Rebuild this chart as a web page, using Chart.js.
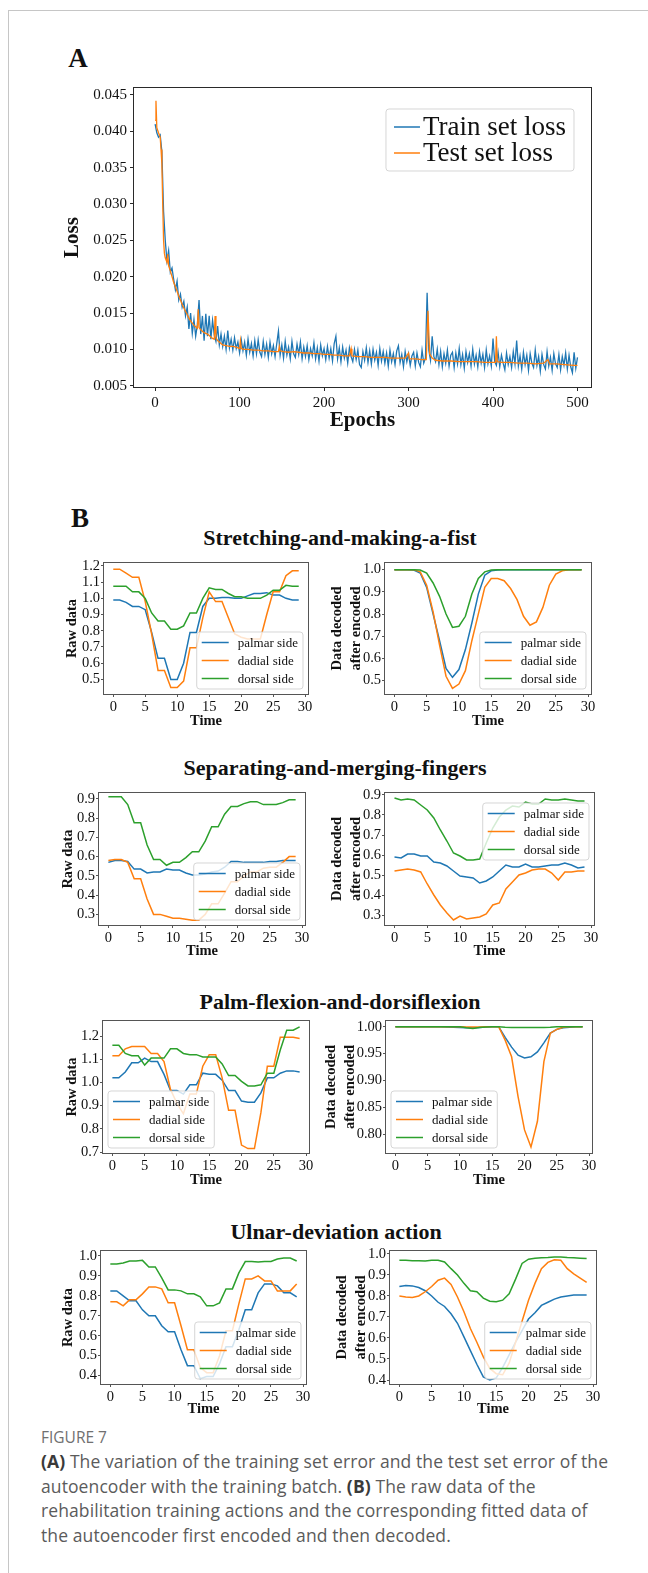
<!DOCTYPE html>
<html>
<head>
<meta charset="utf-8">
<script src="https://cdn.jsdelivr.net/npm/chart.js@4.4.1/dist/chart.umd.min.js"></script>
<style>
  html, body { margin: 0; padding: 0; background: #fff; }
  #page { position: relative; width: 648px; height: 1573px; overflow: hidden; font-family: 'Liberation Serif', 'Times New Roman', serif; color: #111; }
  .frame { position: absolute; left: 8px; top: 10px; width: 660px; height: 1600px; border-top: 1.5px solid #c6c6c6; border-left: 1.5px solid #c6c6c6; }
  .tag, .title { position: absolute; font-weight: bold; line-height: 1; white-space: nowrap; transform: translate(-50%, -50%); }
  .tag { font-size: 27px; }
  .title { font-size: 22px; }
  canvas { position: absolute; }
  .caption { position: absolute; left: 41px; top: 1424px; width: 607px; font-family: 'Open Sans', sans-serif; font-size: 17.5px; letter-spacing: 0.1px; line-height: 24.4px; color: #5b5b5b; white-space: nowrap; }
  .caption .fig { font-size: 15.5px; letter-spacing: 0; color: #707070; }
  .caption b { color: #3a3a3a; }
</style>
</head>
<body>
<div id="page">
  <div class="frame"></div>
  <div class="tag" style="left:78px; top:58px">A</div>
  <div class="tag" style="left:80px; top:518px">B</div>
  <div class="title" style="left:340px; top:538px">Stretching-and-making-a-fist</div>
  <div class="title" style="left:335px; top:768px">Separating-and-merging-fingers</div>
  <div class="title" style="left:340px; top:1002px">Palm-flexion-and-dorsiflexion</div>
  <div class="title" style="left:336px; top:1232px">Ulnar-deviation action</div>
  <canvas id="lossChart"></canvas>
  <canvas id="c0"></canvas><canvas id="c1"></canvas>
  <canvas id="c2"></canvas><canvas id="c3"></canvas>
  <canvas id="c4"></canvas><canvas id="c5"></canvas>
  <canvas id="c6"></canvas><canvas id="c7"></canvas>
  <div class="caption">
    <span class="fig">FIGURE 7</span><br>
    <b>(A)</b> The variation of the training set error and the test set error of the<br>
    autoencoder with the training batch. <b>(B)</b> The raw data of the<br>
    rehabilitation training actions and the corresponding fitted data of<br>
    the autoencoder first encoded and then decoded.
  </div>
</div>
<script>
// ---- panel A: autoencoder loss per epoch ----
const lossLabels = ['Train set loss', 'Test set loss'];
const epochTicks = [0, 100, 200, 300, 400, 500];
const lossTicks = [0.005, 0.010, 0.015, 0.020, 0.025, 0.030, 0.035, 0.040, 0.045];

// train loss sampled every 2 epochs (0..500)
const trainEpochs = Array.from({ length: 251 }, (_, i) => i * 2);
const trainLoss = [
  0.0410, 0.0398, 0.0392, 0.0395, 0.0372, 0.0290, 0.0250, 0.0222, 0.0236, 0.0206,
  0.0212, 0.0196, 0.0182, 0.0194, 0.0168, 0.0176, 0.0158, 0.0166, 0.0146, 0.0158,
  0.0128, 0.0150, 0.0122, 0.0141, 0.0118, 0.0134, 0.0168, 0.0121, 0.0146, 0.0112,
  0.0149, 0.0118, 0.0146, 0.0114, 0.0140, 0.0120, 0.0111, 0.0132, 0.0106, 0.0121,
  0.0104, 0.0118, 0.0100, 0.0126, 0.0102, 0.0114, 0.0099, 0.0116, 0.0101, 0.0110,
  0.0095, 0.0113, 0.0098, 0.0110, 0.0092, 0.0114, 0.0096, 0.0108, 0.0091, 0.0112,
  0.0094, 0.0113, 0.0096, 0.0090, 0.0111, 0.0093, 0.0107, 0.0089, 0.0110, 0.0094,
  0.0105, 0.0090, 0.0108, 0.0125, 0.0092, 0.0106, 0.0088, 0.0111, 0.0092, 0.0103,
  0.0087, 0.0111, 0.0094, 0.0089, 0.0107, 0.0093, 0.0110, 0.0087, 0.0103, 0.0090,
  0.0105, 0.0086, 0.0101, 0.0091, 0.0109, 0.0087, 0.0102, 0.0084, 0.0106, 0.0091,
  0.0101, 0.0086, 0.0104, 0.0088, 0.0101, 0.0084, 0.0108, 0.0118, 0.0087, 0.0102,
  0.0083, 0.0103, 0.0088, 0.0099, 0.0081, 0.0102, 0.0090, 0.0083, 0.0100, 0.0086,
  0.0099, 0.0079, 0.0075, 0.0097, 0.0085, 0.0102, 0.0082, 0.0098, 0.0080, 0.0100,
  0.0085, 0.0096, 0.0078, 0.0101, 0.0084, 0.0097, 0.0081, 0.0095, 0.0077, 0.0099,
  0.0083, 0.0094, 0.0079, 0.0098, 0.0105, 0.0082, 0.0093, 0.0076, 0.0097, 0.0083,
  0.0094, 0.0078, 0.0091, 0.0096, 0.0077, 0.0095, 0.0082, 0.0076, 0.0099, 0.0081,
  0.0088, 0.0178, 0.0099, 0.0085, 0.0118, 0.0090, 0.0083, 0.0100, 0.0079, 0.0097,
  0.0076, 0.0094, 0.0081, 0.0099, 0.0077, 0.0092, 0.0096, 0.0075, 0.0095, 0.0080,
  0.0101, 0.0079, 0.0093, 0.0074, 0.0097, 0.0082, 0.0094, 0.0077, 0.0100, 0.0080,
  0.0092, 0.0076, 0.0097, 0.0081, 0.0093, 0.0075, 0.0099, 0.0080, 0.0091, 0.0077,
  0.0115, 0.0083, 0.0078, 0.0096, 0.0076, 0.0092, 0.0081, 0.0072, 0.0095, 0.0079,
  0.0090, 0.0075, 0.0097, 0.0080, 0.0112, 0.0077, 0.0091, 0.0073, 0.0096, 0.0079,
  0.0092, 0.0071, 0.0094, 0.0081, 0.0075, 0.0099, 0.0078, 0.0090, 0.0070, 0.0093,
  0.0079, 0.0073, 0.0097, 0.0077, 0.0089, 0.0071, 0.0094, 0.0080, 0.0075, 0.0093,
  0.0072, 0.0090, 0.0078, 0.0095, 0.0073, 0.0092, 0.0076, 0.0068, 0.0096, 0.0074,
  0.0089
];

// test loss: smooth curve with a few isolated spikes
const testEpochs = [
  0, 1, 2, 4, 6, 7, 8, 9, 10, 11, 12, 14, 15, 16, 18, 20, 22, 24, 26, 28,
  30, 32, 34, 36, 38, 40, 42, 44, 46, 48, 50, 51, 52, 54, 56, 58, 60, 62, 64, 66,
  68, 70, 71, 72, 74, 76, 78, 80, 84, 88, 92, 96, 100, 101, 102, 106, 110, 116, 122, 128,
  134, 140, 146, 147, 148, 152, 158, 164, 170, 176, 182, 188, 194, 200, 206, 212, 218, 224, 230, 232,
  233, 240, 248, 256, 264, 272, 280, 288, 296, 300, 301, 308, 316, 321, 323, 325, 328, 332, 340, 350,
  360, 370, 380, 390, 400, 403, 404, 405, 410, 420, 430, 440, 450, 460, 465, 467, 475, 485, 495, 500
];
const testLoss = [
  0.0415, 0.0442, 0.0405, 0.0398, 0.0392, 0.0375, 0.0355, 0.0300, 0.0250, 0.0232, 0.0226, 0.0220, 0.0231, 0.0215, 0.0208, 0.0200, 0.0192, 0.0186, 0.0180, 0.0173,
  0.0168, 0.0162, 0.0157, 0.0152, 0.0148, 0.0143, 0.0139, 0.0136, 0.0133, 0.0131, 0.0129, 0.0155, 0.0130, 0.0127, 0.0125, 0.0123, 0.0122, 0.0121, 0.0119, 0.0117,
  0.0115, 0.0114, 0.0146, 0.0116, 0.0112, 0.0110, 0.0108, 0.0106, 0.0105, 0.0104, 0.0104, 0.0103, 0.0101, 0.0112, 0.0101, 0.0100, 0.0100, 0.0099, 0.0099, 0.0098,
  0.0098, 0.0097, 0.0097, 0.0104, 0.0098, 0.0097, 0.0096, 0.0097, 0.0096, 0.0095, 0.0095, 0.0094, 0.0094, 0.0093, 0.0093, 0.0092, 0.0092, 0.0091, 0.0091, 0.0101,
  0.0091, 0.0090, 0.0090, 0.0089, 0.0089, 0.0089, 0.0088, 0.0088, 0.0088, 0.0095, 0.0087, 0.0087, 0.0086, 0.0086, 0.0153, 0.0094, 0.0088, 0.0085, 0.0084, 0.0084,
  0.0083, 0.0083, 0.0083, 0.0082, 0.0082, 0.0082, 0.0118, 0.0083, 0.0082, 0.0082, 0.0081, 0.0081, 0.0080, 0.0081, 0.0086, 0.0080, 0.0080, 0.0079, 0.0078, 0.0078
];

// ---- panel B: sensor sides over 30 time steps ----
const sideLabels = ['palmar side', 'dadial side', 'dorsal side'];
const timeSteps = [0, 1, 2, 3, 4, 5, 6, 7, 8, 9, 10, 11, 12, 13, 14, 15, 16, 17, 18, 19, 20, 21, 22, 23, 24, 25, 26, 27, 28, 29];
const timeTicks = [0, 5, 10, 15, 20, 25, 30];

const stretchRawPalmar = [0.99, 0.99, 0.975, 0.95, 0.95, 0.93, 0.79, 0.63, 0.63, 0.50, 0.50, 0.60, 0.79, 0.79, 0.95, 1.00, 1.00, 1.005, 1.005, 1.00, 1.00, 1.015, 1.03, 1.03, 1.035, 1.02, 1.02, 1.00, 0.99, 0.99];
const stretchRawDadial = [1.18, 1.18, 1.155, 1.13, 1.13, 0.98, 0.78, 0.555, 0.555, 0.45, 0.45, 0.49, 0.695, 0.695, 0.88, 1.04, 0.98, 0.98, 0.88, 0.78, 0.76, 0.75, 0.75, 0.75, 0.90, 1.04, 1.04, 1.14, 1.17, 1.17];
const stretchRawDorsal = [1.075, 1.075, 1.075, 1.04, 1.04, 1.00, 0.91, 0.86, 0.86, 0.81, 0.81, 0.83, 0.91, 0.91, 1.00, 1.065, 1.055, 1.055, 1.03, 1.01, 1.01, 1.00, 1.00, 1.00, 1.02, 1.05, 1.05, 1.08, 1.075, 1.075];
const stretchDecPalmar = [1.0, 1.0, 1.0, 0.998, 0.985, 0.92, 0.80, 0.68, 0.555, 0.515, 0.55, 0.64, 0.76, 0.89, 0.975, 0.995, 0.998, 1.0, 1.0, 1.0, 1.0, 1.0, 1.0, 1.0, 1.0, 1.0, 1.0, 1.0, 1.0, 1.0];
const stretchDecDadial = [1.0, 1.0, 1.0, 1.0, 0.99, 0.93, 0.81, 0.66, 0.52, 0.465, 0.485, 0.545, 0.68, 0.80, 0.92, 0.96, 0.96, 0.95, 0.915, 0.865, 0.79, 0.75, 0.765, 0.83, 0.93, 0.98, 0.995, 1.0, 1.0, 1.0];
const stretchDecDorsal = [1.0, 1.0, 1.0, 1.0, 0.998, 0.985, 0.94, 0.88, 0.80, 0.74, 0.745, 0.79, 0.89, 0.96, 0.99, 0.998, 1.0, 1.0, 1.0, 1.0, 1.0, 1.0, 1.0, 1.0, 1.0, 1.0, 1.0, 1.0, 1.0, 1.0];

const sepRawPalmar = [0.57, 0.58, 0.58, 0.575, 0.535, 0.535, 0.515, 0.52, 0.52, 0.535, 0.53, 0.53, 0.515, 0.505, 0.505, 0.51, 0.52, 0.525, 0.545, 0.575, 0.575, 0.57, 0.57, 0.57, 0.57, 0.575, 0.575, 0.58, 0.58, 0.58];
const sepRawDadial = [0.58, 0.585, 0.585, 0.57, 0.485, 0.485, 0.38, 0.30, 0.30, 0.29, 0.28, 0.28, 0.275, 0.27, 0.27, 0.30, 0.355, 0.355, 0.41, 0.47, 0.47, 0.50, 0.52, 0.52, 0.54, 0.545, 0.545, 0.57, 0.60, 0.60];
const sepRawDorsal = [0.91, 0.91, 0.91, 0.87, 0.775, 0.775, 0.66, 0.585, 0.585, 0.555, 0.57, 0.57, 0.595, 0.625, 0.625, 0.68, 0.755, 0.755, 0.82, 0.86, 0.86, 0.875, 0.885, 0.885, 0.87, 0.87, 0.87, 0.88, 0.895, 0.895];
const sepDecPalmar = [0.59, 0.585, 0.605, 0.605, 0.595, 0.595, 0.565, 0.56, 0.545, 0.52, 0.495, 0.49, 0.485, 0.46, 0.47, 0.49, 0.52, 0.55, 0.54, 0.54, 0.555, 0.54, 0.54, 0.545, 0.55, 0.55, 0.56, 0.55, 0.535, 0.54];
const sepDecDadial = [0.52, 0.525, 0.53, 0.525, 0.515, 0.455, 0.40, 0.35, 0.31, 0.275, 0.295, 0.28, 0.285, 0.29, 0.305, 0.35, 0.36, 0.43, 0.465, 0.50, 0.51, 0.525, 0.53, 0.53, 0.51, 0.475, 0.515, 0.515, 0.52, 0.52];
const sepDecDorsal = [0.885, 0.875, 0.88, 0.875, 0.85, 0.825, 0.785, 0.725, 0.67, 0.61, 0.595, 0.575, 0.575, 0.58, 0.66, 0.735, 0.79, 0.825, 0.845, 0.84, 0.865, 0.855, 0.855, 0.88, 0.875, 0.875, 0.88, 0.875, 0.87, 0.87];

const palmRawPalmar = [1.02, 1.02, 1.045, 1.085, 1.085, 1.105, 1.09, 1.09, 1.035, 0.965, 0.965, 0.95, 0.99, 0.99, 1.04, 1.035, 1.035, 1.01, 0.965, 0.965, 0.92, 0.915, 0.915, 0.955, 1.02, 1.02, 1.04, 1.05, 1.05, 1.045];
const palmRawDadial = [1.115, 1.115, 1.145, 1.155, 1.155, 1.155, 1.125, 1.125, 1.09, 0.97, 0.91, 0.865, 0.95, 0.95, 1.07, 1.12, 1.12, 1.02, 0.88, 0.88, 0.73, 0.715, 0.715, 0.87, 1.07, 1.07, 1.195, 1.195, 1.195, 1.19];
const palmRawDorsal = [1.16, 1.16, 1.125, 1.115, 1.115, 1.075, 1.105, 1.105, 1.105, 1.145, 1.145, 1.125, 1.12, 1.12, 1.11, 1.11, 1.11, 1.08, 1.03, 1.03, 1.005, 0.985, 0.985, 0.99, 1.04, 1.04, 1.14, 1.225, 1.225, 1.24];
const palmDecPalmar = [1.0, 1.0, 1.0, 1.0, 1.0, 1.0, 1.0, 1.0, 0.9995, 0.999, 0.9985, 0.998, 0.998, 0.9985, 0.9995, 1.0, 1.0, 0.98, 0.962, 0.947, 0.942, 0.944, 0.953, 0.97, 0.988, 0.995, 0.998, 0.999, 1.0, 1.0];
const palmDecDadial = [1.0, 1.0, 1.0, 1.0, 1.0, 1.0, 1.0, 1.0, 1.0, 1.0, 1.0, 0.9995, 0.9995, 0.9995, 1.0, 1.0, 1.0, 0.975, 0.944, 0.87, 0.808, 0.776, 0.824, 0.935, 0.988, 0.995, 0.999, 1.0, 1.0, 1.0];
const palmDecDorsal = [1.0, 1.0, 1.0, 1.0, 1.0, 1.0, 1.0, 1.0, 1.0, 1.0, 1.0, 0.998, 0.9965, 0.9985, 0.9995, 1.0, 1.0, 0.999, 0.9985, 0.9985, 0.9985, 0.9985, 0.9985, 0.9985, 0.999, 1.0, 1.0, 1.0, 1.0, 1.0];

const ulnarRawPalmar = [0.825, 0.825, 0.80, 0.775, 0.775, 0.73, 0.70, 0.70, 0.65, 0.62, 0.62, 0.53, 0.45, 0.45, 0.385, 0.395, 0.395, 0.46, 0.545, 0.545, 0.63, 0.73, 0.73, 0.815, 0.86, 0.86, 0.85, 0.815, 0.815, 0.795];
const ulnarRawDadial = [0.77, 0.77, 0.75, 0.78, 0.78, 0.81, 0.845, 0.845, 0.835, 0.765, 0.765, 0.65, 0.53, 0.53, 0.44, 0.415, 0.415, 0.50, 0.625, 0.625, 0.76, 0.885, 0.885, 0.90, 0.875, 0.875, 0.825, 0.825, 0.825, 0.86];
const ulnarRawDorsal = [0.96, 0.96, 0.965, 0.975, 0.975, 0.978, 0.945, 0.945, 0.89, 0.83, 0.83, 0.825, 0.81, 0.81, 0.795, 0.75, 0.75, 0.765, 0.835, 0.835, 0.915, 0.972, 0.972, 0.97, 0.972, 0.972, 0.985, 0.99, 0.99, 0.975];
const ulnarDecPalmar = [0.845, 0.85, 0.848, 0.84, 0.825, 0.80, 0.77, 0.75, 0.715, 0.67, 0.605, 0.54, 0.475, 0.415, 0.40, 0.41, 0.46, 0.52, 0.58, 0.635, 0.69, 0.72, 0.755, 0.77, 0.785, 0.795, 0.80, 0.805, 0.805, 0.805];
const ulnarDecDadial = [0.80, 0.795, 0.793, 0.80, 0.82, 0.845, 0.875, 0.885, 0.855, 0.795, 0.725, 0.645, 0.58, 0.51, 0.455, 0.43, 0.425, 0.48, 0.58, 0.68, 0.78, 0.86, 0.93, 0.96, 0.972, 0.97, 0.93, 0.905, 0.885, 0.865];
const ulnarDecDorsal = [0.97, 0.97, 0.968, 0.968, 0.967, 0.97, 0.97, 0.962, 0.93, 0.90, 0.86, 0.825, 0.82, 0.79, 0.775, 0.772, 0.78, 0.81, 0.88, 0.955, 0.975, 0.98, 0.982, 0.983, 0.985, 0.985, 0.983, 0.982, 0.98, 0.978];

const stretchRawTicks = [0.5, 0.6, 0.7, 0.8, 0.9, 1.0, 1.1, 1.2];
const stretchDecTicks = [0.5, 0.6, 0.7, 0.8, 0.9, 1.0];
const sepTicks = [0.3, 0.4, 0.5, 0.6, 0.7, 0.8, 0.9];
const palmRawTicks = [0.7, 0.8, 0.9, 1.0, 1.1, 1.2];
const palmDecTicks = [0.80, 0.85, 0.90, 0.95, 1.00];
const ulnarTicks = [0.4, 0.5, 0.6, 0.7, 0.8, 0.9, 1.0];

const sideColors = ['#1f77b4', '#ff7f0e', '#2ca02c'];
const SERIF = "'Liberation Serif', 'Times New Roman', serif";
Chart.defaults.font.family = SERIF;
Chart.defaults.color = '#111';

// box around the plot area plus a matplotlib-style legend inside it
const axesBox = {
  id: 'axesBox',
  afterDraw(chart, args, opts) {
    const { ctx, chartArea: a } = chart;
    ctx.save();
    ctx.strokeStyle = opts.frameColor;
    ctx.lineWidth = 1;
    ctx.strokeRect(Math.round(a.left) - 0.5, Math.round(a.top) - 0.5, Math.round(a.right - a.left) + 1, Math.round(a.bottom - a.top) + 1);

    const L = opts.legend;
    const sets = chart.data.datasets;
    ctx.font = `${L.size}px ${SERIF}`;
    const textW = Math.max(...sets.map(d => ctx.measureText(d.label).width));
    const w = L.inset + L.handle + L.gap + textW + L.inset;
    const h = L.rowH * sets.length + L.vpad * 2;
    const x = L.loc.includes('right') ? a.right - L.padX - w : a.left + L.padX;
    const y = L.loc.includes('upper') ? a.top + L.padY : a.bottom - L.padY - h;
    ctx.beginPath();
    ctx.roundRect(x, y, w, h, 3);
    ctx.fillStyle = 'rgba(255,255,255,0.8)';
    ctx.fill();
    ctx.strokeStyle = 'rgba(204,204,204,0.8)';
    ctx.stroke();
    ctx.textBaseline = 'middle';
    ctx.textAlign = 'left';
    sets.forEach((d, i) => {
      const cy = y + L.vpad + L.rowH * (i + 0.5);
      ctx.strokeStyle = d.borderColor;
      ctx.lineWidth = L.lineWidth;
      ctx.beginPath();
      ctx.moveTo(x + L.inset, cy);
      ctx.lineTo(x + L.inset + L.handle, cy);
      ctx.stroke();
      ctx.fillStyle = '#111';
      ctx.fillText(d.label, x + L.inset + L.handle + L.gap, cy + L.textDy);
    });
    ctx.restore();
  }
};

// sizes a canvas so that the plot area lands on the given [left, top, right, bottom]
function buildChart(id, spec) {
  const canvas = document.getElementById(id);
  const [l, t, r, b] = spec.axes;
  const left = Math.round(spec.labelX - spec.yLine / 2);
  const top = t - spec.padT;
  const bottom = Math.round(spec.xTitleY + spec.xLine / 2);
  canvas.style.left = left + 'px';
  canvas.style.top = top + 'px';
  canvas.width = r + spec.padR - left;
  canvas.height = bottom - top;
  const yW = l - left, xH = bottom - b;
  const axisCommon = (ticksArr, fmt, fitter) => ({
    type: 'linear',
    afterBuildTicks: s => { s.ticks = ticksArr.map(v => ({ value: v })); },
    afterFit: fitter,
    grid: { drawOnChartArea: false, drawTicks: true, tickLength: spec.tickLen, tickColor: spec.frameColor },
    border: { display: false },
    ticks: { autoSkip: false, maxRotation: 0, padding: spec.tickPad, font: { size: spec.tickSize }, color: '#111', callback: fmt }
  });
  const x = axisCommon(spec.xTicks, v => String(v), s => { s.height = xH; });
  x.min = spec.xRange[0]; x.max = spec.xRange[1];
  x.title = { display: true, text: spec.xTitle, padding: 0, font: { size: spec.titleSize, weight: 'bold', lineHeight: 1.2 }, color: '#111' };
  const y = axisCommon(spec.yTicks, v => v.toFixed(spec.digits), s => { s.width = yW; });
  y.min = spec.yRange[0]; y.max = spec.yRange[1];
  y.title = { display: true, text: spec.yTitle, padding: 0, font: { size: spec.titleSize, weight: 'bold', lineHeight: spec.yLine / spec.titleSize }, color: '#111' };

  return new Chart(canvas, {
    type: 'line',
    data: { datasets: spec.datasets },
    options: {
      responsive: false,
      animation: false,
      events: [],
      layout: { padding: { top: spec.padT, right: spec.padR, left: 0, bottom: 0 } },
      elements: { point: { radius: 0 }, line: { tension: 0, borderWidth: spec.lineWidth } },
      plugins: {
        legend: { display: false },
        tooltip: { enabled: false },
        axesBox: { frameColor: spec.frameColor, legend: spec.legend }
      },
      scales: { x, y }
    },
    plugins: [axesBox]
  });
}

const pairs = (xs, ys) => xs.map((v, i) => ({ x: v, y: ys[i] }));

// panel A
buildChart('lossChart', {
  axes: [134, 86, 591, 387], labelX: 73, xTitleY: 420, padT: 10, padR: 14,
  yLine: 25.2, xLine: 25.2, titleSize: 21, tickSize: 15, tickLen: 4, tickPad: 3,
  frameColor: '#2a2a2a', lineWidth: 1.3, digits: 3,
  xRange: [-25, 516], yRange: [0.00482, 0.04596],
  xTicks: epochTicks, yTicks: lossTicks, xTitle: 'Epochs', yTitle: 'Loss',
  datasets: [
    { label: lossLabels[0], data: pairs(trainEpochs, trainLoss), borderColor: sideColors[0], order: 1 },
    { label: lossLabels[1], data: pairs(testEpochs, testLoss), borderColor: sideColors[1], order: 0 }
  ],
  legend: { loc: 'upper right', padX: 17, padY: 21, size: 27, rowH: 26, vpad: 5, inset: 8, handle: 26, gap: 3, lineWidth: 1.5, textDy: 1 }
});

// panel B: raw (left) and decoded (right) for each action
const rawTitle = 'Raw data';
const decTitle = ['Data decoded', 'after encoded'];
const smallPanels = [
  { axes: [104, 563, 308, 694], labelX: 72.5, xTitleY: 721, yTitle: rawTitle, yRange: [0.41, 1.218], yTicks: stretchRawTicks, digits: 1, series: [stretchRawPalmar, stretchRawDadial, stretchRawDorsal], loc: 'lower right' },
  { axes: [385, 563, 591, 694], labelX: 337, xTitleY: 721, yTitle: decTitle, yRange: [0.44, 1.03], yTicks: stretchDecTicks, digits: 1, series: [stretchDecPalmar, stretchDecDadial, stretchDecDorsal], loc: 'lower right' },
  { axes: [99, 793, 305, 925], labelX: 69, xTitleY: 951, yTitle: rawTitle, yRange: [0.245, 0.93], yTicks: sepTicks, digits: 1, series: [sepRawPalmar, sepRawDadial, sepRawDorsal], loc: 'lower right' },
  { axes: [385, 793, 594, 925], labelX: 337, xTitleY: 951, yTitle: decTitle, yRange: [0.25, 0.91], yTicks: sepTicks, digits: 1, series: [sepDecPalmar, sepDecDadial, sepDecDorsal], loc: 'upper right', padY: 10 },
  { axes: [103, 1021, 309, 1153], labelX: 72.5, xTitleY: 1180, yTitle: rawTitle, yRange: [0.696, 1.265], yTicks: palmRawTicks, digits: 1, series: [palmRawPalmar, palmRawDadial, palmRawDorsal], loc: 'lower left' },
  { axes: [386, 1021, 592, 1153], labelX: 331, xTitleY: 1180, yTitle: decTitle, yRange: [0.765, 1.0106], yTicks: palmDecTicks, digits: 2, series: [palmDecPalmar, palmDecDadial, palmDecDorsal], loc: 'lower left' },
  { axes: [101, 1251, 306, 1384], labelX: 68.5, xTitleY: 1409, yTitle: rawTitle, yRange: [0.358, 1.025], yTicks: ulnarTicks, digits: 1, series: [ulnarRawPalmar, ulnarRawDadial, ulnarRawDorsal], loc: 'lower right' },
  { axes: [390, 1251, 596, 1384], labelX: 342, xTitleY: 1409, yTitle: decTitle, yRange: [0.381, 1.014], yTicks: ulnarTicks, digits: 1, series: [ulnarDecPalmar, ulnarDecDadial, ulnarDecDorsal], loc: 'lower right' }
];

smallPanels.forEach((p, k) => {
  const twoLine = Array.isArray(p.yTitle);
  buildChart('c' + k, {
    ...p,
    padT: 10, padR: 14,
    yLine: twoLine ? 19 : 17.4, xLine: 17.4, titleSize: 14.5, tickSize: 14.5, tickLen: 3, tickPad: 1,
    frameColor: '#555', lineWidth: 1.5,
    xRange: [-1.45, 30.45], xTicks: timeTicks, xTitle: 'Time',
    datasets: p.series.map((vals, i) => ({
      label: sideLabels[i], data: pairs(timeSteps, vals), borderColor: sideColors[i], order: 2 - i
    })),
    legend: { loc: p.loc, padX: 5, padY: p.padY || 5, size: 13, rowH: 18, vpad: 1.5, inset: 5, handle: 27, gap: 9, lineWidth: 1.5, textDy: 1 }
  });
});
</script>
</body>
</html>
